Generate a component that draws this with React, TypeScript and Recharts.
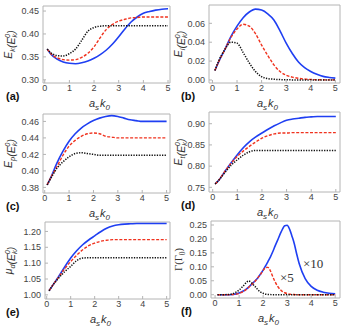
import { Label, Line, LineChart, ReferenceArea, XAxis, YAxis } from 'recharts';
import type { ReactNode } from 'react';

// a_s k_0 grid for panels (a)-(e)
const xs = [0.1, 0.25, 0.5, 0.75, 1, 1.25, 1.5, 1.75, 2, 2.25, 2.5, 2.75, 3, 3.25, 3.5, 3.75, 4, 4.25, 4.5, 4.75, 5];

const ekBlue = [0.367, 0.356, 0.345, 0.339, 0.336, 0.335, 0.337, 0.341, 0.347, 0.355, 0.365, 0.378, 0.394, 0.411, 0.426, 0.437, 0.445, 0.449, 0.452, 0.454, 0.455];
const ekRed = [0.367, 0.357, 0.348, 0.344, 0.343, 0.344, 0.349, 0.358, 0.372, 0.392, 0.41, 0.421, 0.428, 0.432, 0.435, 0.436, 0.437, 0.437, 0.437, 0.437, 0.437];
const ekBlack = [0.367, 0.359, 0.353, 0.352, 0.357, 0.367, 0.386, 0.406, 0.414, 0.417, 0.418, 0.418, 0.418, 0.418, 0.418, 0.418, 0.418, 0.418, 0.418, 0.418, 0.418];

const eiBlue = [0.01, 0.019, 0.032, 0.046, 0.057, 0.066, 0.072, 0.075, 0.074, 0.07, 0.0635, 0.052, 0.039, 0.028, 0.019, 0.013, 0.009, 0.006, 0.0038, 0.0027, 0.002];
const eiRed = [0.01, 0.019, 0.032, 0.045, 0.054, 0.059, 0.057, 0.049, 0.037, 0.026, 0.016, 0.009, 0.005, 0.003, 0.0018, 0.001, 0.0005, 0.0003, 0.0002, 0.0001, 0.0001];
const eiBlack = [0.01, 0.02, 0.032, 0.04, 0.039, 0.029, 0.018, 0.009, 0.0035, 0.0015, 0.0008, 0.0004, 0.0002, 0.0001, 0.0001, 0.0001, 0.0001, 0.0001, 0.0001, 0.0001, 0.0001];

const epBlue = [0.383, 0.392, 0.4095, 0.424, 0.436, 0.445, 0.452, 0.457, 0.461, 0.464, 0.466, 0.467, 0.466, 0.464, 0.462, 0.461, 0.46, 0.46, 0.46, 0.46, 0.46];
const epRed = [0.383, 0.392, 0.405, 0.419, 0.43, 0.437, 0.442, 0.445, 0.446, 0.445, 0.442, 0.441, 0.44, 0.44, 0.44, 0.44, 0.44, 0.44, 0.44, 0.44, 0.44];
const epBlack = [0.383, 0.391, 0.403, 0.411, 0.417, 0.421, 0.422, 0.421, 0.42, 0.419, 0.419, 0.419, 0.419, 0.419, 0.419, 0.419, 0.419, 0.419, 0.419, 0.419, 0.419];

const etBlue = [0.758, 0.767, 0.788, 0.808, 0.827, 0.844, 0.858, 0.869, 0.878, 0.887, 0.895, 0.902, 0.908, 0.911, 0.913, 0.915, 0.916, 0.917, 0.917, 0.917, 0.917];
const etRed = [0.758, 0.767, 0.788, 0.807, 0.823, 0.836, 0.847, 0.857, 0.866, 0.872, 0.876, 0.878, 0.878, 0.879, 0.879, 0.879, 0.879, 0.879, 0.879, 0.879, 0.879];
const etBlack = [0.758, 0.767, 0.785, 0.802, 0.815, 0.826, 0.834, 0.837, 0.837, 0.837, 0.837, 0.837, 0.837, 0.837, 0.837, 0.837, 0.837, 0.837, 0.837, 0.837, 0.837];

const muBlue = [1.013, 1.03, 1.058, 1.088, 1.116, 1.139, 1.158, 1.173, 1.186, 1.199, 1.21, 1.217, 1.221, 1.223, 1.224, 1.225, 1.225, 1.225, 1.225, 1.225, 1.225];
const muRed = [1.013, 1.03, 1.056, 1.082, 1.105, 1.125, 1.142, 1.155, 1.163, 1.169, 1.172, 1.174, 1.174, 1.174, 1.174, 1.174, 1.174, 1.174, 1.174, 1.174, 1.174];
const muBlack = [1.013, 1.03, 1.053, 1.073, 1.09, 1.108, 1.116, 1.117, 1.117, 1.117, 1.117, 1.117, 1.117, 1.117, 1.117, 1.117, 1.117, 1.117, 1.117, 1.117, 1.117];

// finer grid for the peaks in (f)
const xf = [0.1, 0.25, 0.5, 0.75, 1, 1.1, 1.2, 1.3, 1.4, 1.5, 1.6, 1.7, 1.8, 1.9, 2, 2.1, 2.2, 2.3, 2.4, 2.5, 2.6, 2.75, 2.9, 3, 3.1, 3.2, 3.3, 3.4, 3.5, 3.75, 4, 4.25, 4.5, 4.75, 5];
const gBlue = [0, 0, 0, 0.001, 0.006, 0.01, 0.014, 0.02, 0.027, 0.036, 0.044, 0.053, 0.063, 0.075, 0.088, 0.103, 0.119, 0.135, 0.154, 0.175, 0.195, 0.225, 0.247, 0.249, 0.235, 0.21, 0.182, 0.145, 0.112, 0.058, 0.03, 0.016, 0.009, 0.005, 0.003];
const gRed = [0, 0, 0, 0.001, 0.004, 0.008, 0.013, 0.019, 0.027, 0.034, 0.043, 0.052, 0.063, 0.074, 0.087, 0.097, 0.098, 0.086, 0.065, 0.046, 0.031, 0.015, 0.007, 0.004, 0.002, 0.001, 0.0005, 0, 0, 0, 0, 0, 0, 0, 0];
const gBlack = [0, 0, 0.0005, 0.004, 0.017, 0.025, 0.034, 0.044, 0.049, 0.044, 0.035, 0.026, 0.016, 0.009, 0.005, 0.002, 0.001, 0.0005, 0, 0, 0, 0, 0, 0, 0, 0, 0, 0, 0, 0, 0, 0, 0, 0, 0];

const xTicks = [0, 1, 2, 3, 4, 5];

function rows(x: number[], blue: number[], red: number[], black: number[]) {
  return x.map((v, i) => ({ x: v, blue: blue[i], red: red[i], black: black[i] }));
}

const FONT = 'Liberation Sans, Arial, sans-serif';
const W = 172;
const H = 120;

interface Frame { l: number; r: number; t: number; b: number }

interface PanelProps {
  left: number;
  top: number;
  data: { x: number; blue: number; red: number; black: number }[];
  frame: Frame;
  xDomain: [number, number];
  yDomain: [number, number];
  yTicks: number[];
  yTitle: ReactNode;
  tag: string;
  titleX: number;
  extra?: ReactNode;
}

function sub(s: string) {
  return [
    <tspan key="a" dy={2.5} fontSize={7.5}>{s}</tspan>,
    <tspan key="b" dy={-2.5}>{''}</tspan>,
  ];
}

function energyUnit() {
  return [
    <tspan key="o">(E</tspan>,
    <tspan key="k" dy={2.5} fontSize={7.5}>k</tspan>,
    <tspan key="z" dx={-4.2} dy={-7} fontSize={7.5}>0</tspan>,
    <tspan key="c" dy={4.5}>)</tspan>,
  ];
}

function Panel({ left, top, data, frame, xDomain, yDomain, yTicks, yTitle, tag, titleX, extra }: PanelProps) {
  const overlay = () => (
    <g fontFamily={FONT}>
      <text
        x={(frame.l + frame.r) / 2 - 7}
        y={frame.b + 24}
        textAnchor="middle"
        fontStyle="italic"
        fontSize={11}
        fill="#333"
      >
        a<tspan dy={2.5} fontSize={8}>s</tspan>
        <tspan dy={-2.5} dx={1}>k</tspan>
        <tspan dy={2.5} fontSize={8}>0</tspan>
      </text>
      <text x={left === 0 ? 6 : 9} y={frame.b + 17} fontWeight="bold" fontSize={11} fill="#111">{tag}</text>
      <text
        transform={`translate(${titleX},${(frame.t + frame.b) / 2}) rotate(-90)`}
        textAnchor="middle"
        fontStyle="italic"
        fontSize={10.5}
        fill="#333"
      >
        {yTitle}
      </text>
      {extra}
    </g>
  );

  return (
    <div style={{ position: 'absolute', left, top }}>
      <LineChart width={W} height={H} data={data} margin={{ top: frame.t, right: W - frame.r, bottom: 0, left: 0 }}>
        <ReferenceArea x1={xDomain[0]} x2={xDomain[1]} y1={yDomain[0]} y2={yDomain[1]} fill="none" stroke="#b4b4b4" strokeWidth={1} ifOverflow="visible" />
        <XAxis
          dataKey="x"
          type="number"
          domain={xDomain}
          ticks={xTicks}
          allowDataOverflow
          interval={0}
          height={H - frame.b}
          axisLine={false}
          tickSize={-3}
          tickMargin={5}
          tickLine={{ stroke: '#b4b4b4' }}
          tick={{ fill: '#444', fontSize: 9, fontFamily: FONT }}
        >
          <Label content={overlay} />
        </XAxis>
        <YAxis
          type="number"
          domain={yDomain}
          ticks={yTicks}
          allowDataOverflow
          interval={0}
          width={frame.l}
          axisLine={false}
          tickSize={-3}
          tickMargin={7}
          tickLine={{ stroke: '#b4b4b4' }}
          tick={{ fill: '#444', fontSize: 9, fontFamily: FONT }}
          tickFormatter={(v: number) => v.toFixed(2)}
        />
        <Line dataKey="blue" type="monotone" stroke="#1f3ff2" strokeWidth={1.6} dot={false} isAnimationActive={false} />
        <Line dataKey="red" type="monotone" stroke="#f0321e" strokeWidth={1.4} strokeDasharray="3 1.6" dot={false} isAnimationActive={false} />
        <Line dataKey="black" type="monotone" stroke="#111" strokeWidth={1.5} strokeDasharray="1.3 1.3" dot={false} isAnimationActive={false} />
      </LineChart>
    </div>
  );
}

export default function App() {
  return (
    <div style={{ position: 'absolute', left: 0, top: 0, width: 344, height: 330, background: '#fff', overflow: 'hidden' }}>
      <Panel
        left={0}
        top={0}
        data={rows(xs, ekBlue, ekRed, ekBlack)}
        frame={{ l: 43, r: 170, t: 6, b: 83 }}
        xDomain={[-0.07, 5.08]}
        yDomain={[0.293, 0.461]}
        yTicks={[0.3, 0.35, 0.4, 0.45]}
        yTitle={[<tspan key="e">E</tspan>, ...sub('k'), ...energyUnit()]}
        tag="(a)"
        titleX={12}
      />
      <Panel
        left={172}
        top={0}
        data={rows(xs, eiBlue, eiRed, eiBlack)}
        frame={{ l: 37, r: 168, t: 5, b: 83 }}
        xDomain={[-0.14, 5.19]}
        yDomain={[-0.0032, 0.0794]}
        yTicks={[0, 0.02, 0.04, 0.06]}
        yTitle={[<tspan key="e">E</tspan>, ...sub('i'), ...energyUnit()]}
        tag="(b)"
        titleX={10}
      />
      <Panel
        left={0}
        top={104}
        data={rows(xs, epBlue, epRed, epBlack)}
        frame={{ l: 43, r: 170, t: 10, b: 89 }}
        xDomain={[-0.07, 5.14]}
        yDomain={[0.3732, 0.469]}
        yTicks={[0.38, 0.4, 0.42, 0.44, 0.46]}
        yTitle={[<tspan key="e">E</tspan>, ...sub('p'), ...energyUnit()]}
        tag="(c)"
        titleX={12}
      />
      <Panel
        left={172}
        top={104}
        data={rows(xs, etBlue, etRed, etBlack)}
        frame={{ l: 37, r: 168, t: 8, b: 88 }}
        xDomain={[-0.15, 5.17]}
        yDomain={[0.739, 0.9276]}
        yTicks={[0.75, 0.8, 0.85, 0.9]}
        yTitle={[<tspan key="e">E</tspan>, ...sub('t'), ...energyUnit()]}
        tag="(d)"
        titleX={10}
      />
      <Panel
        left={0}
        top={214}
        data={rows(xs, muBlue, muRed, muBlack)}
        frame={{ l: 45, r: 170, t: 8, b: 85 }}
        xDomain={[-0.07, 5.14]}
        yDomain={[0.987, 1.2297]}
        yTicks={[1.0, 1.05, 1.1, 1.15, 1.2]}
        yTitle={[<tspan key="e">μ</tspan>, ...sub('d'), ...energyUnit()]}
        tag="(e)"
        titleX={12}
      />
      <Panel
        left={172}
        top={214}
        data={rows(xf, gBlue, gRed, gBlack)}
        frame={{ l: 39, r: 168, t: 7, b: 84 }}
        xDomain={[-0.17, 5.2]}
        yDomain={[-0.0118, 0.2643]}
        yTicks={[0, 0.05, 0.1, 0.15, 0.2, 0.25]}
        yTitle={[
          <tspan key="g" fontStyle="normal" fontFamily="Liberation Serif, serif">Γ(Γ</tspan>,
          <tspan key="s" dy={2.5} fontSize={7.5} fontStyle="normal" fontFamily="Liberation Serif, serif">0</tspan>,
          <tspan key="c" dy={-2.5} fontStyle="normal" fontFamily="Liberation Serif, serif">)</tspan>,
        ]}
        tag="(f)"
        titleX={10}
        extra={
          <g fontFamily="Liberation Serif, Times New Roman, serif" fontSize={13} fill="#333">
            <text x={131} y={54}>×10</text>
            <text x={108} y={68}>×5</text>
          </g>
        }
      />
    </div>
  );
}
